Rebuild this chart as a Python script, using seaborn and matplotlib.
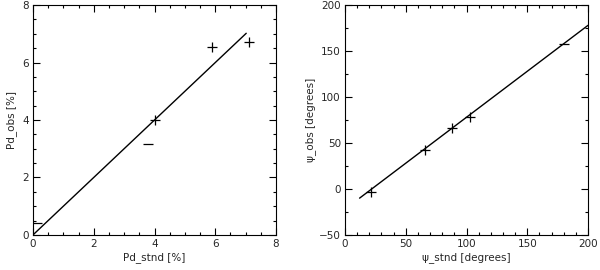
import numpy as np
import pandas as pd
import matplotlib
matplotlib.use("Agg")
import matplotlib.pyplot as plt
from matplotlib.ticker import MultipleLocator
import seaborn as sns

sns.set_theme(style="ticks")
plt.rcParams['font.family'] = ['DejaVu Sans']

# Left panel data
pd_fit_x = [0.0, 7.02]
pd_fit_y = [0.0, 7.02]
pd_plus_x = [4.02, 5.89, 7.12]
pd_plus_y = [3.99, 6.55, 6.72]
pd_dash_x = [0.13, 3.79]
pd_dash_y = [0.43, 3.17]

# Right panel data
psi_fit_x = [12.0, 200.0]
psi_fit_y = [-10.0, 178.0]
psi_plus_x = [21.1, 65.6, 88.3, 103.2]
psi_plus_y = [-3.5, 42.4, 66.0, 78.6]
psi_dash_x = [180.0]
psi_dash_y = [157.6]

fig = plt.figure(figsize=(6.0, 2.7), dpi=100)
ax1 = fig.add_axes([0.055, 0.13, 0.405, 0.851])
ax2 = fig.add_axes([0.575, 0.13, 0.405, 0.851])

def style(ax, xlim, ylim, xmaj, xmin, ymaj, ymin):
    ax.set_xlim(*xlim)
    ax.set_ylim(*ylim)
    ax.xaxis.set_major_locator(MultipleLocator(xmaj))
    ax.xaxis.set_minor_locator(MultipleLocator(xmin))
    ax.yaxis.set_major_locator(MultipleLocator(ymaj))
    ax.yaxis.set_minor_locator(MultipleLocator(ymin))
    ax.tick_params(which='both', direction='in', top=True, right=True,
                   color='black', width=0.8, labelsize=7.5, pad=3)
    ax.tick_params(which='major', length=5)
    ax.tick_params(which='minor', length=2.5)
    for s in ax.spines.values():
        s.set_visible(True)
        s.set_color('black')
        s.set_linewidth(0.8)
    ax.set_facecolor('white')

sns.lineplot(x=pd_fit_x, y=pd_fit_y, ax=ax1, color='black', linewidth=1.0)
sns.scatterplot(x=pd_plus_x, y=pd_plus_y, ax=ax1, marker='+', color='black', s=50, linewidth=0.9)
sns.scatterplot(x=pd_dash_x, y=pd_dash_y, ax=ax1, marker='_', color='black', s=50, linewidth=0.9)
style(ax1, (0, 8), (0, 8), 2, 0.5, 2, 0.5)
ax1.set_xlabel('Pd_stnd [%]', fontsize=7.5, labelpad=2)
ax1.set_ylabel('Pd_obs [%]', fontsize=7.5, labelpad=4)

sns.lineplot(x=psi_fit_x, y=psi_fit_y, ax=ax2, color='black', linewidth=1.0)
sns.scatterplot(x=psi_plus_x, y=psi_plus_y, ax=ax2, marker='+', color='black', s=50, linewidth=0.9)
sns.scatterplot(x=psi_dash_x, y=psi_dash_y, ax=ax2, marker='_', color='black', s=50, linewidth=0.9)
style(ax2, (0, 200), (-50, 200), 50, 10, 50, 25)
ax2.set_xlabel('ψ_stnd [degrees]', fontsize=7.5, labelpad=2)
ax2.set_ylabel('ψ_obs [degrees]', fontsize=7.5, labelpad=2)

fig.savefig('out.png', dpi=100, facecolor='white')
